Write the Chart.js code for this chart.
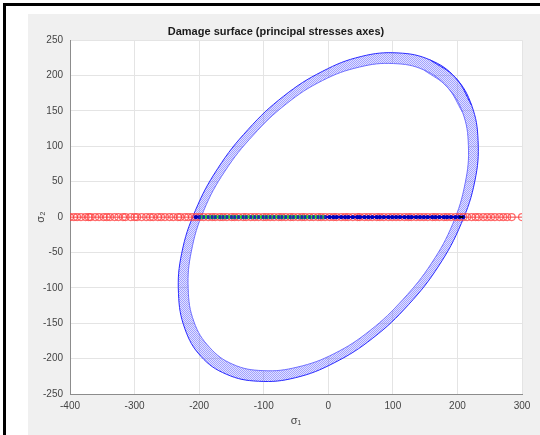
<!DOCTYPE html>
<html>
<head>
<meta charset="utf-8">
<title>Damage surface</title>
<script src="https://cdn.jsdelivr.net/npm/chart.js"></script>
<style>
    html, body { margin: 0; padding: 0; background: #fff; }
    canvas { display: block; }
</style>
</head>
<body>
<canvas id="damageChart" width="540" height="435"></canvas>
<script>
// ---- data ----
const xTicks = [-400, -300, -200, -100, 0, 100, 200, 300];
const yTicks = [-250, -200, -150, -100, -50, 0, 50, 100, 150, 200, 250];

// sampled sigma_1 values (sigma_2 = 0 for all of them)
const sigma1Samples = [
    -400, -394, -389, -383, -376, -371, -368, -361, -355, -348, -343, -338, -331, -325,
    -318, -314, -306, -300, -296, -289, -282, -276, -271, -264, -259, -253, -246, -240,
    -233, -229, -222, -217, -211, -205, -199, -193, -186, -180, -175, -168, -163, -157,
    -150, -145, -139, -132, -127, -120, -114, -108, -101, -96, -90, -84, -77, -72, -66,
    -59, -54, -47, -41, -36, -29, -23, -16, -11, -5, 2, 8, 13, 20, 26, 31, 38, 45, 49,
    56, 62, 68, 75, 80, 86, 93, 99, 105, 111, 118, 124, 129, 136, 142, 148, 154, 161,
    166, 172, 179, 184, 190, 197, 203, 209, 215, 222, 228, 233, 240, 246, 252, 258, 265,
    271, 277, 284, 300
];

// range of samples inside the damage surface (blue), inside the compressive part (green)
const blueRange = [-205, 210];
const greenRange = [-200, 0];
const blackRange = [200, 210];

// outer boundary of the damage surface [sigma1, sigma2]
const outerSurface = [
    [197, 197], [158, 222], [108, 232], [51, 227], [-9, 206], [-69, 171],
    [-124, 124], [-171, 69], [-206, 9], [-227, -51], [-232, -108], [-222, -158],
    [-197, -197], [-158, -222], [-108, -232], [-51, -227], [9, -206], [69, -171],
    [124, -124], [171, -69], [206, -9], [227, 51], [232, 108], [222, 158]
];

// inner boundary of the damage surface band
const innerSurface = [
    [184, 184], [148, 208], [101, 217], [48, 212], [-9, 193], [-65, 160],
    [-116, 116], [-160, 65], [-193, 9], [-212, -48], [-217, -101], [-208, -148],
    [-184, -184], [-148, -208], [-101, -217], [-48, -212], [9, -193], [65, -160],
    [116, -116], [160, -65], [193, -9], [212, 48], [217, 101], [208, 148]
];

// ---- helpers ----
function toPoints(list) {
    return list.map(([x, y]) => ({ x, y }));
}

// wrap a closed curve so the spline stays smooth where it joins
function closedLoop(list) {
    const pts = toPoints(list);
    const n = pts.length;
    return [pts[n - 1], ...pts, pts[0], pts[1]];
}

function onAxis(lo, hi) {
    return sigma1Samples.filter(v => v >= lo && v <= hi).map(v => ({ x: v, y: 0 }));
}

function hatchPattern() {
    const c = document.createElement('canvas');
    c.width = 2;
    c.height = 2;
    const g = c.getContext('2d');
    g.fillStyle = 'rgba(70,70,255,0.5)';
    g.fillRect(0, 0, 1, 1);
    g.fillRect(1, 1, 1, 1);
    g.fillStyle = 'rgba(70,70,255,0.16)';
    g.fillRect(1, 0, 1, 1);
    g.fillRect(0, 1, 1, 1);
    return g.createPattern(c, 'repeat');
}

const figureBackground = {
    id: 'figureBackground',
    beforeDraw(chart) {
        const { ctx, chartArea } = chart;
        ctx.save();
        ctx.fillStyle = '#ffffff';
        ctx.fillRect(0, 0, chart.width, chart.height);
        ctx.fillStyle = '#000000';
        ctx.fillRect(3, 3, chart.width - 3, 3);
        ctx.fillRect(3, 3, 3, chart.height - 3);
        ctx.fillStyle = '#f0f0f0';
        ctx.fillRect(28, 14, chart.width - 28, chart.height - 14);
        ctx.fillStyle = '#ffffff';
        ctx.fillRect(chartArea.left, chartArea.top,
            chartArea.right - chartArea.left, chartArea.bottom - chartArea.top);
        ctx.restore();
    }
};

const tickFont = { family: "'Liberation Sans', Arial, sans-serif", size: 10 };
const axisTitleFont = { family: "'Liberation Sans', Arial, sans-serif", size: 11 };

new Chart(document.getElementById('damageChart'), {
    type: 'scatter',
    data: {
        datasets: [
            {
                label: 'surface outer',
                data: closedLoop(outerSurface),
                showLine: true,
                indexAxis: 'y',
                tension: 0.4,
                fill: 'shape',
                backgroundColor: hatchPattern(),
                borderColor: '#2a2aff',
                borderWidth: 1,
                pointRadius: 0,
                order: 6
            },
            {
                label: 'surface inner',
                data: closedLoop(innerSurface),
                showLine: true,
                indexAxis: 'y',
                tension: 0.4,
                fill: 'shape',
                backgroundColor: '#ffffff',
                borderColor: '#7070ff',
                borderWidth: 1,
                pointRadius: 0,
                order: 5
            },
            {
                label: 'samples',
                data: onAxis(-1000, 1000),
                showLine: true,
                borderColor: 'rgba(255,50,50,0.85)',
                borderWidth: 1,
                pointRadius: 3.5,
                pointStyle: 'circle',
                pointBorderColor: 'rgba(255,60,60,0.75)',
                pointBackgroundColor: 'rgba(0,0,0,0)',
                pointBorderWidth: 1.2,
                order: 4
            },
            {
                label: 'inside',
                data: onAxis(blueRange[0], blueRange[1]),
                showLine: true,
                borderColor: '#0000ff',
                borderWidth: 2,
                pointRadius: 2.2,
                pointBorderWidth: 0,
                pointBackgroundColor: '#0000bb',
                order: 3
            },
            {
                label: 'compressive',
                data: onAxis(greenRange[0], greenRange[1]),
                showLine: true,
                borderColor: '#22dd22',
                borderWidth: 3,
                pointRadius: 1.5,
                pointBorderWidth: 0,
                pointBackgroundColor: '#2222bb',
                order: 2
            },
            {
                label: 'limit',
                data: onAxis(blackRange[0], blackRange[1]),
                showLine: true,
                borderColor: '#000000',
                borderWidth: 2,
                pointRadius: 0,
                order: 1
            }
        ]
    },
    options: {
        responsive: false,
        animation: false,
        events: [],
        layout: { padding: { left: 30, right: 18, top: 14, bottom: 0 } },
        plugins: {
            legend: { display: false },
            tooltip: { enabled: false },
            title: {
                display: true,
                text: 'Damage surface (principal stresses axes)',
                color: '#1a1a1a',
                font: { family: "'Liberation Sans', Arial, sans-serif", size: 11, weight: 'bold' },
                padding: { top: 11, bottom: 2 }
            }
        },
        scales: {
            x: {
                type: 'linear',
                min: xTicks[0],
                max: xTicks[xTicks.length - 1],
                afterBuildTicks: s => { s.ticks = xTicks.map(v => ({ value: v })); },
                afterFit: s => { s.height = 41; },
                grid: { color: '#e4e4e4', drawTicks: false },
                border: { color: '#8c8c8c' },
                ticks: { padding: 6, color: '#444', font: tickFont, callback: v => String(v) },
                title: { display: true, text: 'σ₁', color: '#444', font: axisTitleFont, padding: { top: 0, bottom: 7 } }
            },
            y: {
                type: 'linear',
                min: yTicks[0],
                max: yTicks[yTicks.length - 1],
                afterBuildTicks: s => { s.ticks = yTicks.map(v => ({ value: v })); },
                afterFit: s => { s.width = 40; },
                grid: { color: '#e4e4e4', drawTicks: false },
                border: { color: '#8c8c8c' },
                ticks: { padding: 7, color: '#444', font: tickFont, callback: v => String(v) },
                title: { display: true, text: 'σ₂', color: '#444', font: axisTitleFont, padding: { top: 4, bottom: 0 } }
            }
        }
    },
    plugins: [figureBackground]
});
</script>
</body>
</html>
